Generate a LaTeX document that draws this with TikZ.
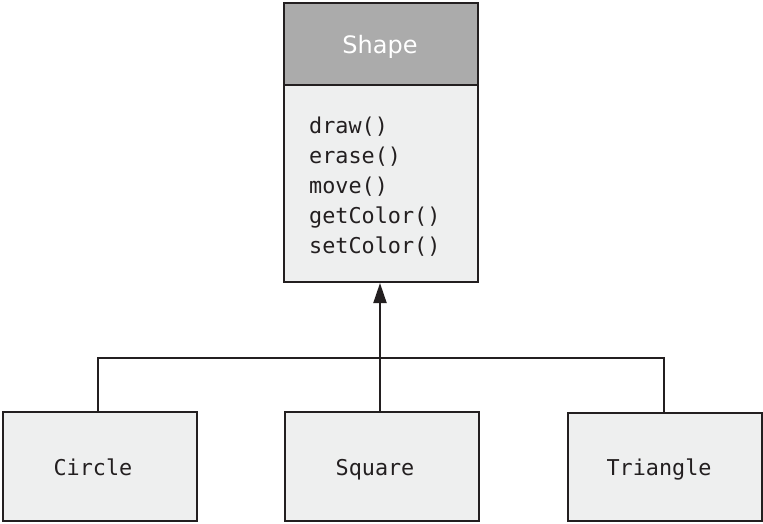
\documentclass[tikz,border=0pt]{standalone}
\usepackage{fontspec}
\setmainfont{DejaVu Sans}
\setmonofont{DejaVu Sans Mono}
\usetikzlibrary{arrows.meta}
\definecolor{ink}{HTML}{231F20}
\definecolor{hdr}{HTML}{ABABAB}
\definecolor{bodyfill}{HTML}{EEEFEF}
\begin{document}
\begin{tikzpicture}[x=1pt,y=-1pt,
  box/.style={draw=ink,line width=2pt,fill=bodyfill},
  mtext/.style={font=\fontsize{21.8}{26}\selectfont\ttfamily,text=ink,inner sep=0pt},
  conn/.style={draw=ink,line width=2pt}]
\useasboundingbox (0,0) rectangle (763,523);
% Shape class
\node[box,fill=hdr,minimum width=194pt,minimum height=82pt,anchor=north west,inner sep=0pt] (hd) at (283,2) {};
\node[box,minimum width=194pt,minimum height=197pt,anchor=north west,inner sep=0pt] (bd) at (283,84) {};
\node[font=\fontsize{24}{28}\selectfont,text=white,inner sep=0pt,anchor=base] (title) at (380,53) {Shape};
\node[mtext,anchor=base west] (m1) at (309,133) {draw()};
\node[mtext,anchor=base west] (m2) at (309,163) {erase()};
\node[mtext,anchor=base west] (m3) at (309,193) {move()};
\node[mtext,anchor=base west] (m4) at (309,223) {getColor()};
\node[mtext,anchor=base west] (m5) at (309,253) {setColor()};
% subclasses
\node[box,minimum width=194pt,minimum height=109pt,anchor=north west,inner sep=0pt] (circ) at (2,411) {};
\node[box,minimum width=194pt,minimum height=109pt,anchor=north west,inner sep=0pt] (sq) at (284,411) {};
\node[box,minimum width=194pt,minimum height=108pt,anchor=north west,inner sep=0pt] (tri) at (567,412) {};
\node[mtext,anchor=base] (tc) at (93,475) {Circle};
\node[mtext,anchor=base] (ts) at (375,475) {Square};
\node[mtext,anchor=base] (tt) at (659,475) {Triangle};
% connectors
\coordinate (j) at (380,358);
\draw[conn] (circ.north -| 98,0) |- (j) -| (tri.north -| 664,0);
\draw[conn,-{Triangle[length=20pt,width=13pt]}] (sq.north -| 380,0) -- (bd.south -| 380,0);
\end{tikzpicture}
\end{document}
